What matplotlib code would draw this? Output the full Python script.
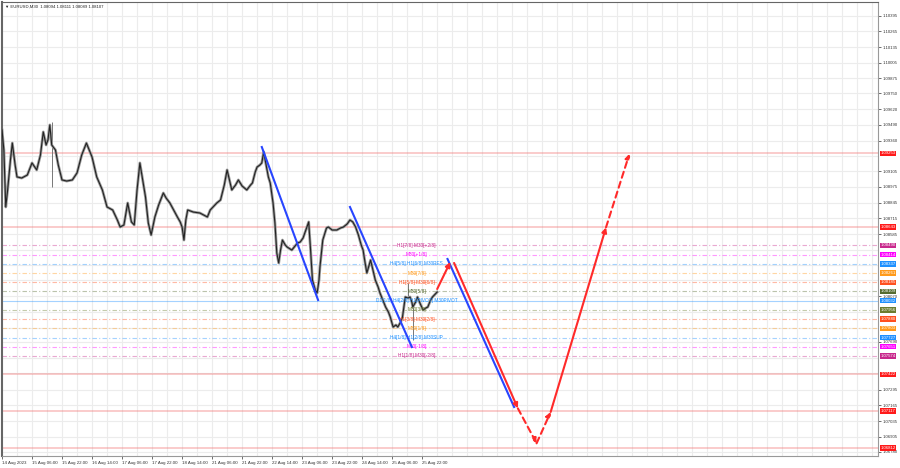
import matplotlib
matplotlib.use("Agg")
import matplotlib.pyplot as plt
from matplotlib.transforms import blended_transform_factory

plt.rcParams['font.family'] = ['Liberation Sans', 'DejaVu Sans']

# --- data (x = M30 bar index from left edge, y = price) ---
bar_idx = [0, 2, 4, 6, 9, 11, 14, 16, 21, 27, 32, 37, 41, 44, 47, 49, 51, 53, 57, 60,
           64, 69, 75, 80, 85, 90, 93, 96, 101, 107, 112, 118, 123, 126, 130, 134, 138, 141, 144, 147,
           150, 153, 156, 159, 163, 167, 172, 175, 179, 183, 187, 190, 192, 194, 196, 198, 204, 211, 215, 219,
           222, 225, 229, 233, 237, 240, 243, 245, 249, 252, 256, 261, 265, 267, 270, 272, 275, 277, 279, 284,
           286, 289, 291, 293, 295, 297, 299, 302, 304, 309, 315, 318, 321, 324, 327, 329, 331, 334, 336, 338,
           339, 342, 346, 348, 352, 357, 361, 364, 368, 371, 374, 377, 380, 383, 385, 387, 389, 393, 395, 398,
           401, 403, 406, 409, 412, 414, 417, 420, 422, 425, 427, 429, 430, 433, 435, 437, 438, 441, 443, 446,
           449, 452, 454, 457, 459, 462, 464]
price = [1.09447, 1.09281, 1.08809, 1.08950, 1.09198, 1.09339, 1.09157, 1.09058, 1.09049, 1.09074,
         1.09174, 1.09116, 1.09240, 1.09431, 1.09323, 1.09364, 1.09489, 1.09323, 1.09281, 1.09157,
         1.09033, 1.09024, 1.09033, 1.09091, 1.09240, 1.09339, 1.09281, 1.09223, 1.09058, 1.08950,
         1.08809, 1.08784, 1.08701, 1.08643, 1.08660, 1.08842, 1.08685, 1.08660, 1.08950, 1.09174,
         1.09033, 1.08892, 1.08676, 1.08577, 1.08726, 1.08825, 1.08925, 1.08883, 1.08842, 1.08784,
         1.08726, 1.08685, 1.08643, 1.08535, 1.08701, 1.08784, 1.08767, 1.08759, 1.08743, 1.08726,
         1.08784, 1.08809, 1.08842, 1.08867, 1.08991, 1.09116, 1.09016, 1.08950, 1.08991, 1.09033,
         1.08983, 1.08950, 1.08991, 1.09008, 1.09099, 1.09140, 1.09157, 1.09174, 1.09265, 1.09058,
         1.09008, 1.08842, 1.08676, 1.08427, 1.08345, 1.08452, 1.08535, 1.08494, 1.08477, 1.08452,
         1.08510, 1.08519, 1.08552, 1.08618, 1.08685, 1.08452, 1.08204, 1.08121, 1.08096, 1.08204,
         1.08311, 1.08535, 1.08635, 1.08643, 1.08618, 1.08618, 1.08635, 1.08643, 1.08668, 1.08701,
         1.08685, 1.08643, 1.08577, 1.08494, 1.08452, 1.08353, 1.08262, 1.08369, 1.08303, 1.08204,
         1.08146, 1.08096, 1.08038, 1.07980, 1.07938, 1.07897, 1.07814, 1.07831, 1.07814, 1.07855,
         1.07897, 1.08005, 1.08063, 1.08054, 1.08063, 1.08021, 1.07980, 1.08021, 1.08063, 1.08005,
         1.07955, 1.07972, 1.07980, 1.08038, 1.08063, 1.08088, 1.08104]
# a few long wicks
wick_idx = [53, 295, 438, 433]
wick_low = [1.08975, 1.08345, 1.07706, 1.08054]
wick_high = [1.09513, 1.08452, 1.07980, 1.08179]

red_levels = [1.09253, 1.08643, 1.07422, 1.07117, 1.06812]

murray_levels = [1.08490, 1.08414, 1.08337, 1.08261, 1.08185, 1.08109, 1.08032,
                 1.07956, 1.07880, 1.07803, 1.07727, 1.07651, 1.07574]
murray_names = ["H1[7/8] M30[+2/8]", "M30[+1/8]", "H4[5/8] H1[6/8] M30RES", "M30[7/8]",
                "H1[5/8] M30[6/8]", "M30[5/8]", "D1[1/8] H4[2/8] H1[PIVOT] M30PIVOT",
                "M30[3/8]", "H1[3/8] M30[2/8]", "M30[1/8]", "H4[1/8] H1[2/8] M30SUP",
                "M30[-1/8]", "H1[1/8] M30[-2/8]"]
murray_colors = ["#c8288c", "#ff00ff", "#1e90ff", "#ff9a1a", "#ff5020", "#556b2f", "#1e90ff",
                 "#6b7d2f", "#ff5020", "#ff9a1a", "#1e90ff", "#ff00ff", "#c8288c"]

# blue channel lines
blue_x0 = [277, 371, 475]
blue_y0 = [1.09306, 1.08809, 1.08378]
blue_x1 = [337, 437, 546]
blue_y1 = [1.08038, 1.07648, 1.07151]

# red forecast arrows (solid / dashed)
red_x0 = [464, 482, 550, 570, 585, 644]
red_y0 = [1.08129, 1.08345, 1.07140, 1.06850, 1.07110, 1.08640]
red_x1 = [478, 550, 570, 585, 644, 669]
red_y1 = [1.08353, 1.07140, 1.06850, 1.07110, 1.08640, 1.09250]
red_dashed = [False, False, True, True, False, True]

ytick_vals = [1.10395, 1.10265, 1.10135, 1.10005, 1.09875, 1.09750, 1.09620, 1.09490, 1.09360,
              1.09105, 1.08975, 1.08845, 1.08715, 1.08585, 1.08070, 1.07690,
              1.07295, 1.07165, 1.07035, 1.06905, 1.06780]
ygrid_vals = [1.10395, 1.10265, 1.10135, 1.10005, 1.09875, 1.09750, 1.09620, 1.09490, 1.09360,
              1.09230, 1.09105, 1.08975, 1.08845, 1.08715, 1.08585, 1.08455, 1.08325, 1.08200,
              1.08070, 1.07940, 1.07810, 1.07690, 1.07560, 1.07430, 1.07295, 1.07165, 1.07035,
              1.06905, 1.06780]
xtick_labels = ["14 Aug 2023", "15 Aug 06:00", "15 Aug 22:00", "16 Aug 14:00", "17 Aug 06:00",
                "17 Aug 22:00", "18 Aug 14:00", "21 Aug 06:00", "21 Aug 22:00", "22 Aug 14:00",
                "23 Aug 06:00", "23 Aug 22:00", "24 Aug 14:00", "25 Aug 06:00", "25 Aug 22:00"]

fs_y = 3.1
fs_x = 3.2

fig = plt.figure(figsize=(9, 4.68), dpi=100)
ax = fig.add_axes([2/900, 12/468, 876/900, 454/468])
ax.set_xlim(0, 934)
ax.set_ylim(1.06745, 1.10508)

# grid
for g in ygrid_vals:
    ax.axhline(g, color="#ececec", lw=0.8, zorder=0)
for k in range(1, 59):
    ax.axvline(16 * k, color="#ececec", lw=0.8, zorder=0)

# levels
for lv in red_levels:
    ax.axhline(lv, color="#f26d6d", lw=1.1, alpha=0.45, zorder=1)
for lv, c in zip(murray_levels, murray_colors):
    ls = "-" if lv == 1.08032 else (0, (4, 2, 1, 2))
    ax.axhline(lv, color=c, lw=0.8, alpha=0.4, ls=ls, zorder=1)

# price
ax.vlines(wick_idx, wick_low, wick_high, color="#777777", lw=0.7, zorder=2)
ax.plot(bar_idx, price, color="#9a9a9a", lw=2.0, zorder=2)
ax.plot(bar_idx, price, color="#222222", lw=0.8, zorder=3)

# level names on the chart
for lv, name, c in zip(murray_levels, murray_names, murray_colors):
    ax.text(442, lv, name, color=c, fontsize=3.4, ha="center", va="center", zorder=4)

# channel lines
for x0, y0, x1, y1 in zip(blue_x0, blue_y0, blue_x1, blue_y1):
    ax.plot([x0, x1], [y0, y1], color="#2845ff", lw=1.5, zorder=5)

for x0, y0, x1, y1, d in zip(red_x0, red_y0, red_x1, red_y1, red_dashed):
    ax.annotate("", xy=(x1, y1), xytext=(x0, y0),
                arrowprops=dict(arrowstyle="-|>", color="#ff2a2a", lw=1.5,
                                ls=(0, (3, 2)) if d else "-", mutation_scale=7,
                                shrinkA=0, shrinkB=0),
                zorder=6)

# axes styling
ax.yaxis.tick_right()
ax.set_yticks(ytick_vals)
ax.set_yticklabels(["%.5f" % v for v in ytick_vals])
ax.set_xticks([32 * k for k in range(15)])
ax.set_xticklabels(xtick_labels, ha="left")
ax.tick_params(axis="y", labelsize=fs_y, length=2, width=0.5, pad=1.2, colors="#333333")
ax.tick_params(axis="x", labelsize=fs_x, length=2, width=0.5, pad=1.5, colors="#333333")
for s in ["top", "left"]:
    ax.spines[s].set_color("#666666")
for s in ["right", "bottom"]:
    ax.spines[s].set_color("#999999")
ax.spines["left"].set_linewidth(1.5)

# boxed values on the price scale
tr = blended_transform_factory(ax.transAxes, ax.transData)
for lv in red_levels:
    ax.text(1.0025, lv, "%.5f" % lv, transform=tr, fontsize=fs_y, color="white", ha="left",
            va="center", clip_on=False, zorder=7,
            bbox=dict(boxstyle="square,pad=0.15", fc="#ff1a1a", ec="none"))
for lv, c in zip(murray_levels, murray_colors):
    ax.text(1.0025, lv, "%.5f" % lv, transform=tr, fontsize=fs_y, color="white", ha="left",
            va="center", clip_on=False, zorder=7,
            bbox=dict(boxstyle="square,pad=0.15", fc=c, ec="none"))

ax.text(0.003, 0.995, "\u25bc EURUSD,M30  1.08094 1.08111 1.08089 1.08107", transform=ax.transAxes,
        fontsize=3.1, color="#222222", ha="left", va="top")

fig.savefig("out.png", dpi=100)
